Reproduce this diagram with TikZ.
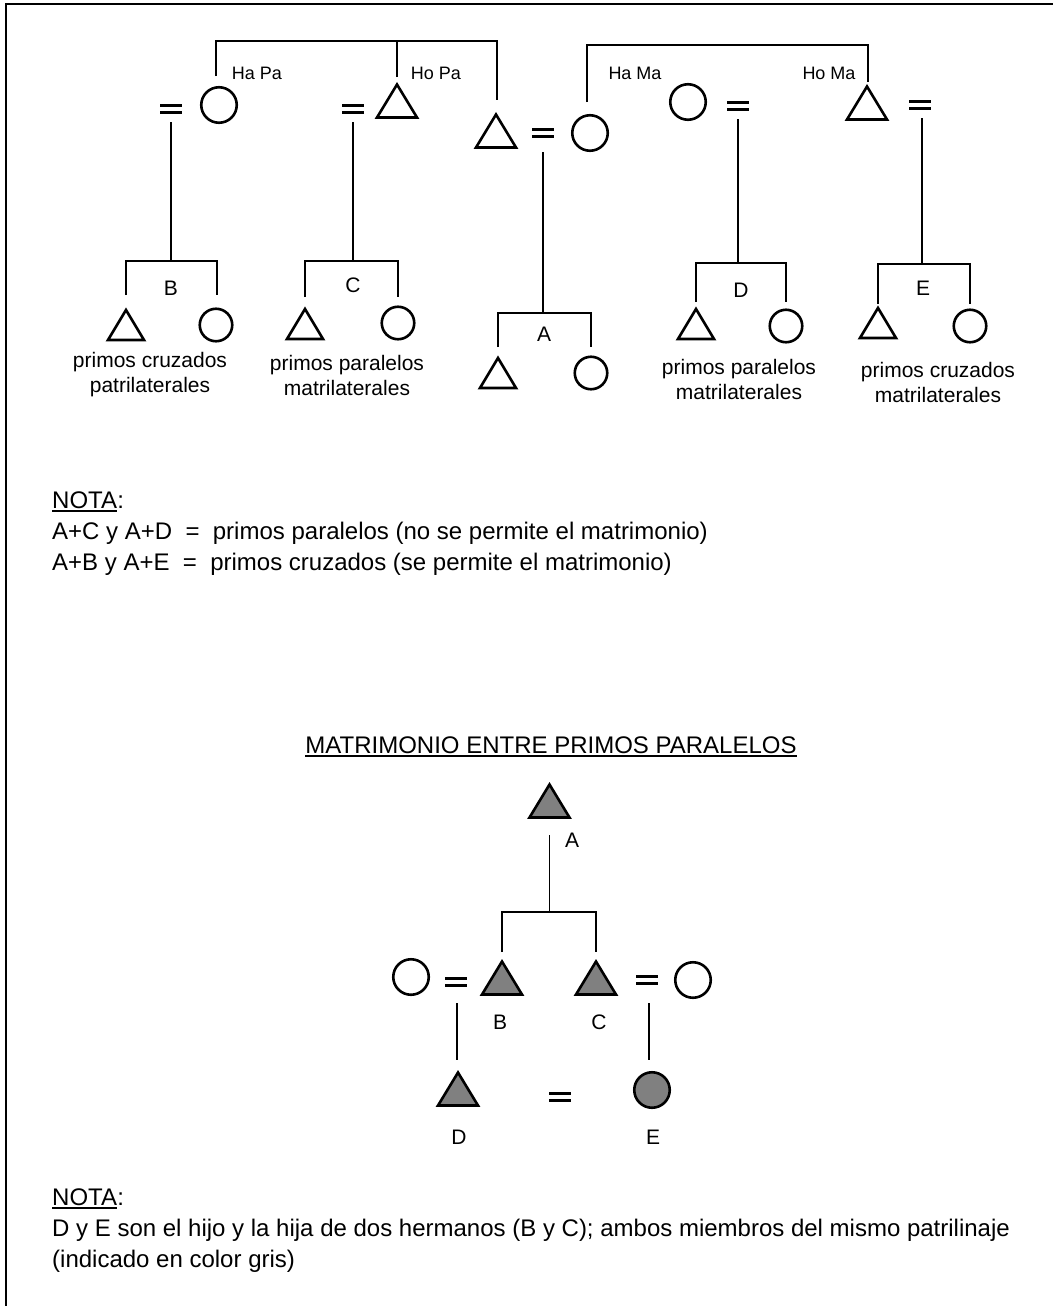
\documentclass[tikz,border=0pt]{standalone}
\usepackage{fontspec}
\setmainfont{Liberation Sans}
\usetikzlibrary{calc}
\definecolor{lineage}{HTML}{808080}
\begin{document}
\begin{tikzpicture}[x=1pt,y=-1pt,
  ln/.style={line width=1.8pt},
  thin/.style={line width=1.3pt},
  sym/.style={line width=2.6pt, line join=miter},
  txt/.style={font=\fontsize{21}{25}\selectfont, inner sep=0},
  note/.style={font=\fontsize{24}{28}\selectfont, inner sep=0},
  small/.style={font=\fontsize{18}{22}\selectfont, inner sep=0},
  male/.style={minimum width=56, minimum height=48, inner sep=0,
    path picture={\draw[sym,#1] ($(path picture bounding box.center)+(-20,16.5)$)
      -- ++(40,0) -- ++(-20,-33) -- cycle;}},
  male/.default={fill=none},
  kid/.style={minimum width=52, minimum height=44, inner sep=0,
    path picture={\draw[sym] ($(path picture bounding box.center)+(-18,15)$)
      -- ++(36,0) -- ++(-18,-30) -- cycle;}},
  female/.style={circle, draw, sym, minimum size=35.5, inner sep=0},
  girl/.style={circle, draw, sym, minimum size=32.5, inner sep=0},
  eqsign/.style={minimum width=26, minimum height=14, inner sep=0,
    path picture={
      \draw[line width=3pt] ($(path picture bounding box.center)+(-11,-3.8)$) -- ++(22,0);
      \draw[line width=3pt] ($(path picture bounding box.center)+(-11,3.8)$) -- ++(22,0);}},
  uline/.style={line width=1.6pt},
]
\useasboundingbox (0,0) rectangle (1053,1306);
% frame
\draw[line width=2pt] (5.5,1306) -- (5.5,4.5) -- (1053,4.5);

% ---------------- parents generation ----------------
\node[female] (hapa) at (219,105) {};
\node[eqsign] (eq1) at (171,109) {};
\node[male] (hopa) at (397,101) {};
\node[eqsign] (eq2) at (353,109) {};
\node[male] (fa) at (496,131) {};
\node[eqsign] (eq3) at (543,133) {};
\node[female] (mo) at (590,133) {};
\node[female] (hama) at (688,102) {};
\node[eqsign] (eq4) at (738,106) {};
\node[male] (homa) at (867,103) {};
\node[eqsign] (eq5) at (920,105) {};

\node[small] (lhapa) at (257,73) {Ha Pa};
\node[small] (lhopa) at (436,73) {Ho Pa};
\node[small] (lhama) at (635,73) {Ha Ma};
\node[small] (lhoma) at (829,73) {Ho Ma};

% father's siblings
\coordinate (pabar) at (0,41);
\draw[ln] ($(hapa)+(-3,-29)$) |- ($(fa)+(1,-90)$) -- ($(fa)+(1,-31)$);
\draw[ln] ($(hopa)+(0,-24)$) -- (hopa |- pabar);
% mother's siblings
\coordinate (mabar) at (0,45);
\draw[ln] ($(mo)+(-3,-31)$) |- ($(homa)+(1,-58)$) -- ($(homa)+(1,-21)$);
\draw[ln] ($(hama)+(-1,-23)$) -- ($(hama)+(-1,-23)$ |- mabar);

% ---------------- cousins generation ----------------
% B
\node[kid] (b1) at (126,325) {};
\node[girl] (b2) at (216,325) {};
\node[txt] (lb) at (171,288) {B};
\draw[ln] ($(eq1)+(0,13)$) -- ($(eq1)+(0,152)$);
\draw[ln] ($(b1)+(0,-30)$) |- ($(b2)+(1,-64)$) -- ($(b2)+(1,-30)$);
\node[txt, align=center] (tb) at (150,375) {primos cruzados\\patrilaterales};
% C
\node[kid] (c1) at (305,324) {};
\node[girl] (c2) at (398,323) {};
\node[txt] (lc) at (353,285) {C};
\draw[ln] ($(eq2)+(0,13)$) -- ($(eq2)+(0,152)$);
\draw[ln] ($(c1)+(0,-27)$) |- ($(c2)+(0,-62)$) -- ($(c2)+(0,-26)$);
\node[txt, align=center] (tc) at (347,375) {primos paralelos\\matrilaterales};
% A (ego)
\node[kid] (a1) at (498,373) {};
\node[girl] (a2) at (591,373) {};
\node[txt] (la) at (544,334) {A};
\draw[ln] ($(eq3)+(0,19)$) -- ($(eq3)+(0,180)$);
\draw[ln] ($(a1)+(0,-26)$) |- ($(a2)+(0,-60)$) -- ($(a2)+(0,-26)$);
% D
\node[kid] (d1) at (696,324) {};
\node[girl] (d2) at (786,326) {};
\node[txt] (ld) at (741,290) {D};
\draw[ln] ($(eq4)+(0,13)$) -- ($(eq4)+(0,157)$);
\draw[ln] ($(d1)+(0,-22)$) |- ($(d2)+(0,-63)$) -- ($(d2)+(0,-24)$);
\node[txt, align=center] (td) at (739,379) {primos paralelos\\matrilaterales};
% E
\node[kid] (e1) at (878,323) {};
\node[girl] (e2) at (970,326) {};
\node[txt] (le) at (923,288) {E};
\draw[ln] ($(eq5)+(2,13)$) -- ($(eq5)+(2,159)$);
\draw[ln] ($(e1)+(0,-19)$) |- ($(e2)+(0,-62)$) -- ($(e2)+(0,-22)$);
\node[txt, align=center] (te) at (938,382) {primos cruzados\\matrilaterales};

% ---------------- first note ----------------
\node[note, anchor=base west] (nota1) at (52,508) {NOTA};
\node[note, anchor=base west] (col1) at (nota1.base east) {:};
\draw[uline] ($(nota1.base west)+(0,3)$) -- ($(nota1.base east)+(0,3)$);
\node[note, anchor=base west] (n1a) at (52,539) {A+C y A+D \ = \ primos paralelos (no se permite el matrimonio)};
\node[note, anchor=base west] (n1b) at (52,570) {A+B y A+E \ = \ primos cruzados (se permite el matrimonio)};

% ---------------- parallel cousin marriage ----------------
\node[note, anchor=base] (title) at (551,753) {MATRIMONIO ENTRE PRIMOS PARALELOS};
\draw[uline] ($(title.base west)+(0,3)$) -- ($(title.base east)+(0,3)$);

\node[male={fill=lineage}] (ga) at (549.5,801) {};
\node[txt] (lga) at (572,840) {A};
\node[male={fill=lineage}] (gb) at (502,978) {};
\node[male={fill=lineage}] (gc) at (596,978) {};
\node[txt] (lgb) at (500,1022) {B};
\node[txt] (lgc) at (599,1022) {C};
\node[female] (wb) at (411,977) {};
\node[female] (wc) at (693,980) {};
\node[eqsign] (eqb) at (456,982) {};
\node[eqsign] (eqc) at (647,980) {};
\draw[ln] ($(ga)+(0,34)$) -- ($(ga)+(0,111)$);
\draw[ln] ($(gb)+(0,-26)$) |- ($(gc)+(0,-66)$) -- ($(gc)+(0,-26)$);

\node[male={fill=lineage}] (gd) at (458,1089) {};
\node[female, fill=lineage] (ge) at (652,1090) {};
\node[eqsign] (eqde) at (560,1097) {};
\node[txt] (lgd) at (459,1137) {D};
\node[txt] (lge) at (653,1137) {E};
\draw[thin] ($(eqb)+(1,21)$) -- ($(eqb)+(1,78)$);
\draw[thin] ($(eqc)+(2,23)$) -- ($(eqc)+(2,80)$);

% ---------------- second note ----------------
\node[note, anchor=base west] (nota2) at (52,1205) {NOTA};
\node[note, anchor=base west] (col2) at (nota2.base east) {:};
\draw[uline] ($(nota2.base west)+(0,3)$) -- ($(nota2.base east)+(0,3)$);
\node[note, anchor=base west] (n2a) at (52,1236) {D y E son el hijo y la hija de dos hermanos (B y C); ambos miembros del mismo patrilinaje};
\node[note, anchor=base west] (n2b) at (52,1267) {(indicado en color gris)};
\end{tikzpicture}
\end{document}
